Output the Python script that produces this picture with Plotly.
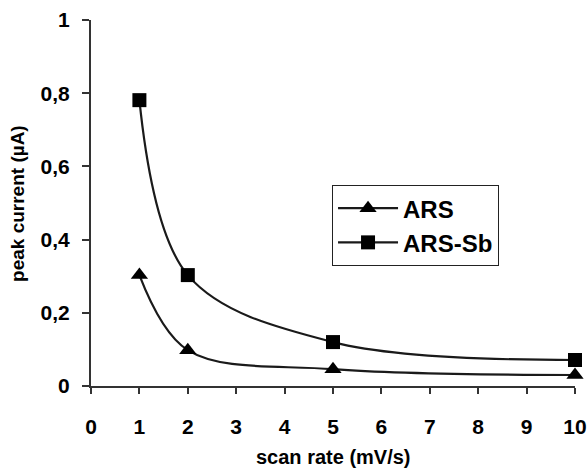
import plotly.graph_objects as go

scan_rate = [1, 2, 5, 10]
ars = [0.303, 0.098, 0.046, 0.030]
ars_sb = [0.781, 0.303, 0.120, 0.071]
x_ticks = list(range(0, 11))
x_labels = [str(v) for v in x_ticks]
y_ticks = [0, 0.2, 0.4, 0.6, 0.8, 1]
y_labels = ["0", "0,2", "0,4", "0,6", "0,8", "1"]

FONT = "Arial, Liberation Sans, sans-serif"
fig = go.Figure()
fig.add_trace(go.Scatter(
    x=scan_rate, y=ars, name="<b>ARS</b>", mode="lines+markers",
    line=dict(color="#1a1a1a", width=2.2, shape="spline", smoothing=1.0),
    marker=dict(symbol="triangle-up", size=15, color="black"),
    cliponaxis=False))
fig.add_trace(go.Scatter(
    x=scan_rate, y=ars_sb, name="<b>ARS-Sb</b>", mode="lines+markers",
    line=dict(color="#1a1a1a", width=2.2, shape="spline", smoothing=1.0),
    marker=dict(symbol="square", size=14, color="black"),
    cliponaxis=False))
# empty helper trace so the label-carrying overlay axes are drawn
fig.add_trace(go.Scatter(x=[], y=[], xaxis="x2", yaxis="y2",
                         showlegend=False, hoverinfo="skip"))

tick_style = dict(showgrid=False, zeroline=False, automargin=False,
                  tickfont=dict(size=21))

fig.update_layout(
    width=588, height=469,
    margin=dict(l=91, r=13, t=20, b=83, autoexpand=False),
    plot_bgcolor="white", paper_bgcolor="white",
    font=dict(family=FONT, color="black", size=18),
    showlegend=True,
    legend=dict(x=0.498, y=0.549, xanchor="left", yanchor="top",
                bordercolor="#222", borderwidth=1, bgcolor="white",
                font=dict(size=24, family=FONT),
                itemwidth=60, tracegroupgap=2),
    # visible axis lines with short ticks, no labels
    xaxis=dict(range=[0, 10], tickvals=x_ticks, showticklabels=False,
               showline=True, linecolor="#333", linewidth=1.5,
               ticks="outside", ticklen=6, tickcolor="#333", tickwidth=1.5,
               **tick_style),
    yaxis=dict(range=[0, 1], tickvals=y_ticks, showticklabels=False,
               showline=True, linecolor="#333", linewidth=1.5,
               ticks="outside", ticklen=7, tickcolor="#333", tickwidth=1.5,
               **tick_style),
    # overlay axes carrying the labels, pushed out by transparent ticks
    xaxis2=dict(range=[0, 10], tickvals=x_ticks, overlaying="x",
                anchor="y2", side="bottom", showline=False,
                ticktext=["<b>%s</b>" % t for t in x_labels],
                ticks="outside", ticklen=22, tickcolor="rgba(0,0,0,0)",
                **tick_style),
    yaxis2=dict(range=[0, 1], tickvals=y_ticks, overlaying="y",
                anchor="x2", side="left", showline=False,
                ticktext=["<b>%s</b>" % t for t in y_labels],
                ticks="outside", ticklen=16, tickcolor="rgba(0,0,0,0)",
                **tick_style),
    annotations=[
        dict(text="<b>scan rate (mV/s)</b>", xref="paper", yref="paper",
             x=0.5, y=-0.193, xanchor="center", yanchor="middle",
             showarrow=False, font=dict(size=20)),
        dict(text="<b>peak current (µA)</b>", xref="paper", yref="paper",
             x=-0.153, y=0.50, xanchor="center", yanchor="middle",
             textangle=-90, showarrow=False, font=dict(size=19)),
    ],
)
fig.write_html("out.html")
